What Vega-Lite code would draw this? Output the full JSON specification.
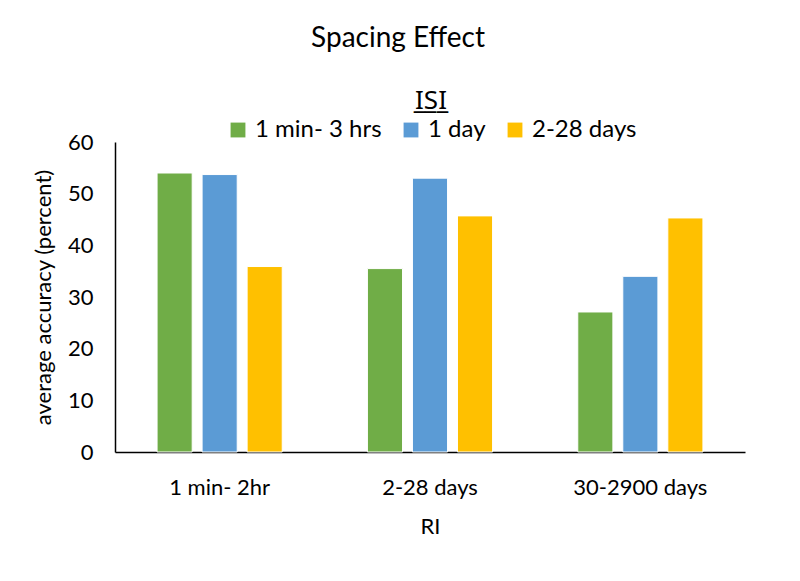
{
  "$schema": "https://vega.github.io/schema/vega-lite/v6.json",
  "width": 630,
  "height": 310,
  "autosize": {"type": "none"},
  "padding": {"left": 115, "top": 142, "right": 55, "bottom": 129},
  "background": "white",
  "title": {
    "text": "Spacing Effect",
    "font": "Lato",
    "fontSize": 28,
    "fontWeight": "normal",
    "color": "#000000",
    "anchor": "middle",
    "dx": -32,
    "offset": 35
  },
  "config": {
    "view": {"stroke": null},
    "font": "Lato"
  },
  "data": {
    "values": [
      {"RI": "1 min- 2hr", "ISI": "1 min- 3 hrs", "accuracy": 54.0},
      {"RI": "1 min- 2hr", "ISI": "1 day", "accuracy": 53.7},
      {"RI": "1 min- 2hr", "ISI": "2-28 days", "accuracy": 35.9},
      {"RI": "2-28 days", "ISI": "1 min- 3 hrs", "accuracy": 35.5},
      {"RI": "2-28 days", "ISI": "1 day", "accuracy": 53.0},
      {"RI": "2-28 days", "ISI": "2-28 days", "accuracy": 45.7},
      {"RI": "30-2900 days", "ISI": "1 min- 3 hrs", "accuracy": 27.1},
      {"RI": "30-2900 days", "ISI": "1 day", "accuracy": 34.0},
      {"RI": "30-2900 days", "ISI": "2-28 days", "accuracy": 45.3}
    ]
  },
  "mark": {"type": "bar", "stroke": "white", "strokeWidth": 1},
  "encoding": {
    "x": {
      "field": "RI",
      "type": "nominal",
      "sort": ["1 min- 2hr", "2-28 days", "30-2900 days"],
      "scale": {"paddingInner": 0.405, "paddingOuter": 0.2},
      "axis": {
        "title": "RI",
        "labelAngle": 0,
        "labelFont": "Lato",
        "labelFontSize": 22,
        "labelColor": "#000000",
        "labelPadding": 25,
        "ticks": false,
        "domainColor": "#000000",
        "domainWidth": 1.5,
        "titleFont": "Lato",
        "titleFontSize": 22,
        "titleFontWeight": "normal",
        "titleColor": "#000000",
        "titlePadding": 18
      }
    },
    "xOffset": {
      "field": "ISI",
      "type": "nominal",
      "sort": ["1 min- 3 hrs", "1 day", "2-28 days"],
      "scale": {"paddingInner": 0.22, "paddingOuter": 0}
    },
    "y": {
      "field": "accuracy",
      "type": "quantitative",
      "scale": {"domain": [0, 60]},
      "axis": {
        "title": "average accuracy (percent)",
        "values": [0, 10, 20, 30, 40, 50, 60],
        "grid": false,
        "ticks": false,
        "labelFont": "Lato",
        "labelFontSize": 22,
        "labelColor": "#000000",
        "labelPadding": 22,
        "domainColor": "#000000",
        "domainWidth": 1.5,
        "titleFont": "Lato",
        "titleFontSize": 22,
        "titleFontWeight": "normal",
        "titleColor": "#000000",
        "titlePadding": 12
      }
    },
    "color": {
      "field": "ISI",
      "type": "nominal",
      "sort": ["1 min- 3 hrs", "1 day", "2-28 days"],
      "scale": {
        "domain": ["1 min- 3 hrs", "1 day", "2-28 days"],
        "range": ["#70AD47", "#5B9BD5", "#FFC000"]
      },
      "legend": {
        "title": "I̲S̲I̲",
        "orient": "none",
        "direction": "horizontal",
        "legendX": 111,
        "legendY": -54,
        "titleAnchor": "middle",
        "titleFont": "Noto Sans",
        "titleFontSize": 26,
        "titleFontWeight": "normal",
        "titleColor": "#000000",
        "titlePadding": 4,
        "labelFont": "Lato",
        "labelFontSize": 24,
        "labelColor": "#000000",
        "labelOffset": 5,
        "symbolType": "square",
        "symbolSize": 220,
        "symbolStrokeWidth": 0,
        "columnPadding": 17
      }
    }
  }
}
